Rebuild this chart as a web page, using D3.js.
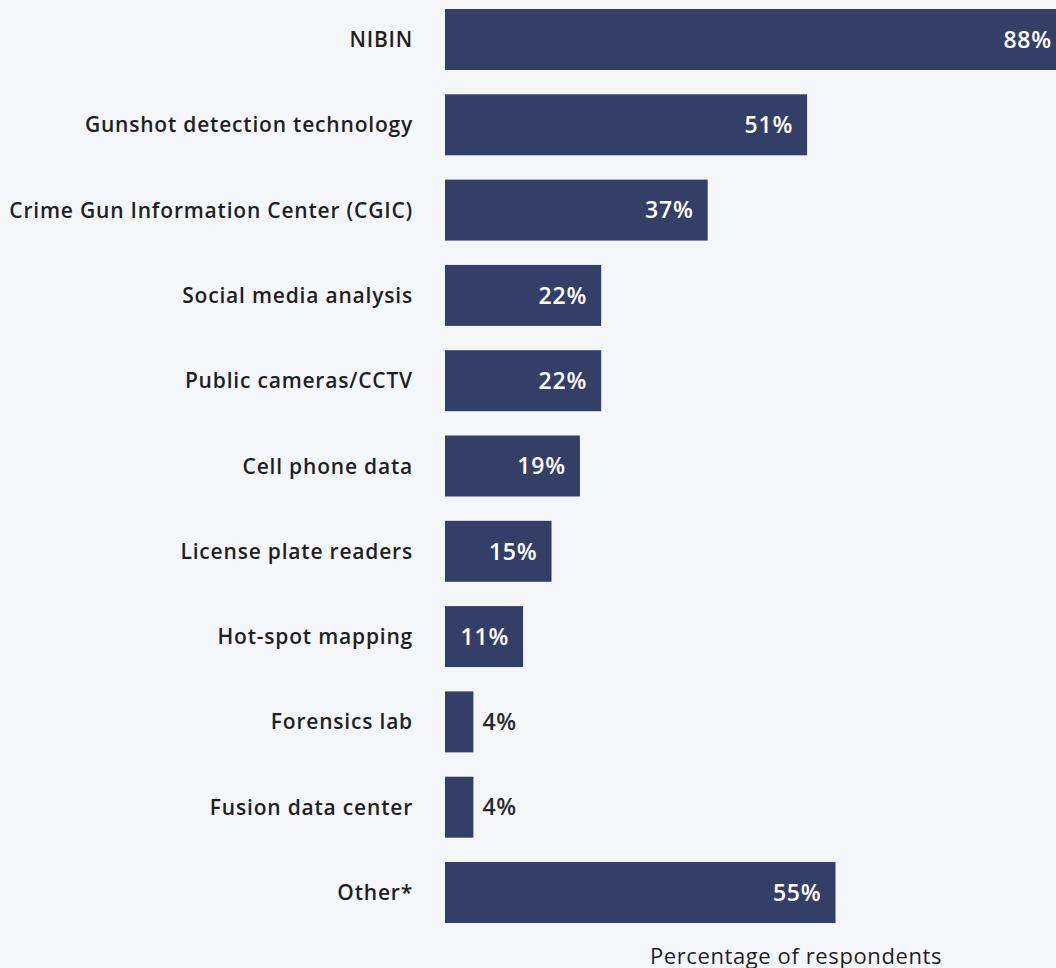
<!DOCTYPE html>
<html><head><meta charset="utf-8">
<script src="https://cdn.jsdelivr.net/npm/d3@7/dist/d3.min.js"></script>
<style>
html,body{margin:0;padding:0;background:#f5f6fa;}
svg{display:block;}
text{font-family:"Open Sans","Noto Sans",sans-serif;}
</style></head>
<body><svg id="chart" width="1056" height="968"></svg>
<script>
const categories = ["NIBIN","Gunshot detection technology","Crime Gun Information Center (CGIC)","Social media analysis","Public cameras/CCTV","Cell phone data","License plate readers","Hot-spot mapping","Forensics lab","Fusion data center","Other*"];
const values = [88,51,37,22,22,19,15,11,4,4,55];
const axisTitle = "Percentage of respondents";

const W = 1056, H = 968;
const svg = d3.select("#chart");
svg.append("rect").attr("width",W).attr("height",H).attr("fill","#f5f6fa");

const x = d3.scaleLinear().domain([0,100]).range([445,1155]);
const y = d3.scaleBand().domain(categories).range([-3.15,935.15]).paddingInner(0.285).paddingOuter(0.1425);
const data = categories.map((c,i)=>({c, v:values[i]}));

svg.append("g").selectAll("rect").data(data).join("rect")
  .attr("x", x(0)).attr("y", d=>y(d.c))
  .attr("width", d=>x(d.v)-x(0)).attr("height", y.bandwidth())
  .attr("fill","#343f68");

svg.append("g").selectAll("text").data(data).join("text")
  .attr("x", x(0)-32).attr("y", d=>y(d.c)+y.bandwidth()/2)
  .attr("dy","0.36em").attr("text-anchor","end")
  .attr("font-size",21).attr("font-weight",600).attr("letter-spacing","0.8px").attr("fill","#1f1f1f")
  .text(d=>d.c);

svg.append("g").selectAll("text").data(data).join("text")
  .attr("x", d=> d.v>=10 ? Math.min(x(d.v)-14, W-4) : x(d.v)+9)
  .attr("y", d=>y(d.c)+y.bandwidth()/2)
  .attr("dy","0.36em").attr("text-anchor", d=> d.v>=10 ? "end":"start")
  .attr("font-size",23).attr("font-weight",600).attr("letter-spacing","0.8px")
  .attr("fill", d=> d.v>=10 ? "#ffffff" : "#2a2a2a")
  .text(d=>d.v+"%");

svg.append("text").attr("x", (x.range()[0]+x.range()[1])/2 - 4).attr("y", 964)
  .attr("text-anchor","middle").attr("font-size",22).attr("letter-spacing","0.6px").attr("fill","#1f1f1f")
  .text(axisTitle);
</script></body></html>
